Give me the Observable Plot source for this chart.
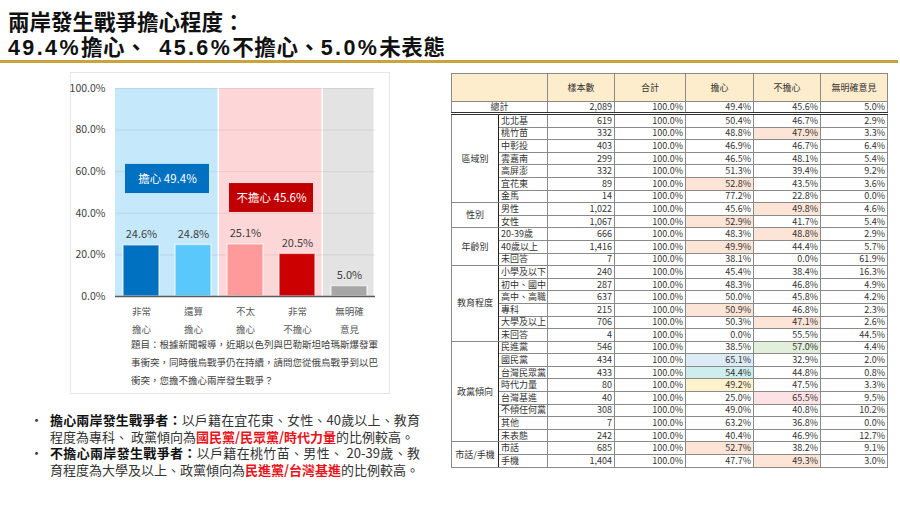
<!DOCTYPE html>
<html><head><meta charset="utf-8">
<script src="https://cdn.jsdelivr.net/npm/d3@7"></script>
<script src="https://cdn.jsdelivr.net/npm/@observablehq/plot@0.6"></script>
<style>
body{margin:0;width:900px;height:506px;position:relative;background:#fff;font-family:"Noto Sans CJK TC","Noto Sans",sans-serif;overflow:hidden;}
#title{position:absolute;left:8px;top:8px;font-size:21.5px;font-weight:700;line-height:25px;color:#111;white-space:nowrap;}
#title .lat{font-family:Arial,"Liberation Sans","DejaVu Sans",sans-serif;font-weight:700;letter-spacing:2.4px;}
#title .gap{display:inline-block;width:12px;}
#title .cj{letter-spacing:0.6px;}
#rule{position:absolute;left:0;top:60px;width:898px;height:3px;background:#c9a33d;}
#panel{position:absolute;left:70px;top:72px;width:320px;height:322px;border:1px solid #e6e6e6;box-sizing:border-box;}
#chart{position:absolute;left:70px;top:76px;}
#question{position:absolute;left:131px;top:335px;width:252px;font-size:9.5px;line-height:18px;color:#404040;}
#notes{position:absolute;left:30px;top:412px;width:390px;font-size:13px;line-height:16.5px;color:#333;}
#notes .item{position:relative;padding-left:20px;text-align:justify;}
#notes .dot{position:absolute;left:0;top:0;}
#notes b{color:#111;}
#notes b.red{color:#e8141c;}
#tbl{position:absolute;left:451px;top:73px;}
table{border-collapse:collapse;table-layout:fixed;width:436px;font-size:9px;color:#333;border:1px solid #222;}
td{border:1px solid #8a8a8a;padding:0 2px;white-space:nowrap;overflow:hidden;line-height:10px;}
tr.row td{height:11.6px;}
tr.head td{height:27px;background:#feedcc;text-align:center;}
tr.total td{height:9px;border-bottom:3px double #333;}
tr.gstart td{border-top:1px solid #222;}
td.num{text-align:right;}
td.grp{text-align:center;vertical-align:middle;border-right:1px solid #222;}
td.lab{text-align:left;}
</style>
</head><body>
<div id="title">兩岸發生戰爭擔心程度：<br><span class="lat">49.4%</span><span class="cj">擔心、</span><span class="gap"></span><span class="lat">45.6%</span><span class="cj">不擔心、</span><span class="lat">5.0%</span><span class="cj">未表態</span></div>
<div id="rule"></div>
<div id="panel"></div>
<div id="chart"></div>
<div id="question">題目：根據新聞報導，近期以色列與巴勒斯坦哈瑪斯爆發軍事衝突，同時俄烏戰爭仍在持續，請問您從俄烏戰爭到以巴衝突，您擔不擔心兩岸發生戰爭？</div>
<div id="notes">
<div class="item"><span class="dot">•</span><b>擔心兩岸發生戰爭者：</b>以戶籍在宜花東、女性、40歲以上、教育程度為專科、 政黨傾向為<b class="red">國民黨/民眾黨/時代力量</b>的比例較高。</div>
<div class="item"><span class="dot">•</span><b>不擔心兩岸發生戰爭者：</b>以戶籍在桃竹苗、男性、 20-39歲、教育程度為大學及以上、政黨傾向為<b class="red">民進黨/台灣基進</b>的比例較高。</div>
</div>
<div id="tbl"></div>
<script>
// ---- chart data ----
const categories = ["非常\n擔心","還算\n擔心","不太\n擔心","非常\n不擔心","無明確\n意見"];
const shares = [24.6, 24.8, 25.1, 20.5, 5.0];
const groupNames = ["擔心","不擔心","無明確意見"];
const groupShares = [49.4, 45.6, 5.0];
const groupSpans = [2, 2, 1];
const yTicks = [0, 20, 40, 60, 80, 100];

// ---- table data ----
const tableHeaders = ["樣本數","合計","擔心","不擔心","無明確意見"];
const totalRow = {label:"總計", n:2089, worry:49.4, notWorry:45.6, none:5.0};
const tableGroups = ["區域別","性別","年齡別","教育程度","政黨傾向","市話/手機"];
const groupRowCounts = [7, 2, 3, 6, 8, 2];
const rowLabels = ["北北基","桃竹苗","中彰投","雲嘉南","高屏澎","宜花東","金馬",
  "男性","女性",
  "20-39歲","40歲以上","未回答",
  "小學及以下","初中、國中","高中、高職","專科","大學及以上","未回答",
  "民進黨","國民黨","台灣民眾黨","時代力量","台灣基進","不傾任何黨","其他","未表態",
  "市話","手機"];
const sampleSizes = [619,332,403,299,332,89,14, 1022,1067, 666,1416,7, 240,287,637,215,706,4, 546,434,433,80,40,308,7,242, 685,1404];
const worryPct = [50.4,48.8,46.9,46.5,51.3,52.8,77.2, 45.6,52.9, 48.3,49.9,38.1, 45.4,48.3,50.0,50.9,50.3,0.0, 38.5,65.1,54.4,49.2,25.0,49.0,63.2,40.4, 52.7,47.7];
const notWorryPct = [46.7,47.9,46.7,48.1,39.4,43.5,22.8, 49.8,41.7, 48.8,44.4,0.0, 38.4,46.8,45.8,46.8,47.1,55.5, 57.0,32.9,44.8,47.5,65.5,40.8,36.8,46.9, 38.2,49.3];
const nonePct = [2.9,3.3,6.4,5.4,9.2,3.6,0.0, 4.6,5.4, 2.9,5.7,61.9, 16.3,4.9,4.2,2.3,2.6,44.5, 4.4,2.0,0.8,3.3,9.5,10.2,0.0,12.7, 9.1,3.0];

// ---- styles (kept apart from data) ----
const barFill = ["#0070c0","#5ac8fa","#ff9a9a","#cc0000","#a6a6a6"];
const bandFill = ["#c5e8fa","#fdd6d8","#e3e3e3"];
const boxFill = ["#0070c0","#c00000"];
const boxY = [[49.5,63.5],[40.4,54.3]];
const peach = "#fce4d6";
// highlighted cells: row index -> {column: color}
const highlights = {1:{3:peach},5:{2:peach},7:{3:peach},8:{2:peach},9:{3:peach},10:{2:peach},15:{2:peach},16:{3:peach},
  18:{3:"#e2efda"},19:{2:"#ddebf7"},20:{2:"#cdeeed"},21:{2:"#fff2cc"},22:{3:"#fde2e5"},26:{2:peach},27:{3:peach}};

const bars = categories.map((c,i)=>({i, cat:c, value:shares[i]}));
let s = 0;
const groups = groupNames.map((g,k)=>{const o={k,name:g,value:groupShares[k],from:s,to:s+groupSpans[k]}; s+=groupSpans[k]; return o;});
const boxes = groups.slice(0,2);
const font = '"Noto Sans CJK TC","Noto Sans",sans-serif';

const chart = Plot.plot({
  width:318, height:262, marginLeft:45, marginRight:13, marginTop:12, marginBottom:42,
  x:{domain:[0,categories.length], label:null},
  y:{domain:[0,100], label:null},
  color:{type:"identity"},
  style:{fontFamily:font, background:"transparent", overflow:"visible"},
  marks:[
    Plot.rect(groups,{x1:"from",x2:"to",y1:0,y2:100,fill:d=>bandFill[d.k],insetRight:1.5}),
    Plot.ruleY(yTicks.slice(1),{stroke:"#8a8a8a",strokeOpacity:0.18}),
    Plot.rect(bars,{x1:"i",x2:d=>d.i+1,y1:0,y2:"value",fill:d=>barFill[d.i],insetLeft:8,insetRight:8,stroke:"#ffffff",strokeOpacity:0.6,strokeWidth:1.5}),
    Plot.text(bars,{x:d=>d.i+0.5,y:"value",text:d=>d.value.toFixed(1)+"%",dy:-7,lineAnchor:"bottom",fill:"#404040",fontSize:11}),
    Plot.rect(boxes,{x1:"from",x2:"to",y1:d=>boxY[d.k][0],y2:d=>boxY[d.k][1],insetLeft:10,insetRight:10,fill:d=>boxFill[d.k]}),
    Plot.text(boxes,{x:d=>(d.from+d.to)/2,y:d=>(boxY[d.k][0]+boxY[d.k][1])/2,text:d=>`${d.name} ${d.value.toFixed(1)}%`,fill:"#ffffff",fontSize:11.5}),
    Plot.ruleY([0],{stroke:"#595959",strokeWidth:1.5}),
    Plot.axisY({ticks:yTicks,tickFormat:d=>d.toFixed(1)+"%",tickSize:0,tickPadding:10,fontSize:10.5,color:"#404040",label:null}),
    Plot.axisX({ticks:categories.map((_,i)=>i+0.5),tickFormat:t=>categories[Math.floor(t)],tickSize:0,tickPadding:6,lineHeight:1.85,fontSize:9.5,color:"#595959",label:null})
  ]
});
document.getElementById("chart").appendChild(chart);

// ---- table ----
const fmtN = d3.format(",");
const pct = v => v.toFixed(1) + "%";
const table = document.createElement("table");
const cg = document.createElement("colgroup");
[47,49,67,71,68,67,67].forEach(w=>{const c=document.createElement("col");c.style.width=w+"px";cg.appendChild(c);});
table.appendChild(cg);
function td(tr, text, cls, bg){const c=document.createElement("td"); c.textContent=text; if(cls) c.className=cls; if(bg) c.style.background=bg; tr.appendChild(c); return c;}
let tr = document.createElement("tr"); tr.className="head";
const h0 = td(tr,""); h0.colSpan=2;
tableHeaders.forEach(h=>td(tr,h));
table.appendChild(tr);
tr = document.createElement("tr"); tr.className="total";
const t0 = td(tr,totalRow.label); t0.colSpan=2; t0.style.textAlign="center";
td(tr,fmtN(totalRow.n),"num"); td(tr,"100.0%","num"); td(tr,pct(totalRow.worry),"num"); td(tr,pct(totalRow.notWorry),"num"); td(tr,pct(totalRow.none),"num");
table.appendChild(tr);
let r = 0;
tableGroups.forEach((g,gi)=>{
  for(let j=0;j<groupRowCounts[gi];j++,r++){
    const row = document.createElement("tr");
    row.className = "row" + (j===0 ? " gstart" : "");
    if(j===0){const gc=td(row,g,"grp"); gc.rowSpan=groupRowCounts[gi];}
    const hl = highlights[r] || {};
    td(row,rowLabels[r],"lab");
    td(row,fmtN(sampleSizes[r]),"num");
    td(row,"100.0%","num");
    td(row,pct(worryPct[r]),"num",hl[2]);
    td(row,pct(notWorryPct[r]),"num",hl[3]);
    td(row,pct(nonePct[r]),"num",hl[4]);
    table.appendChild(row);
  }
});
document.getElementById("tbl").appendChild(table);
</script>
</body></html>
